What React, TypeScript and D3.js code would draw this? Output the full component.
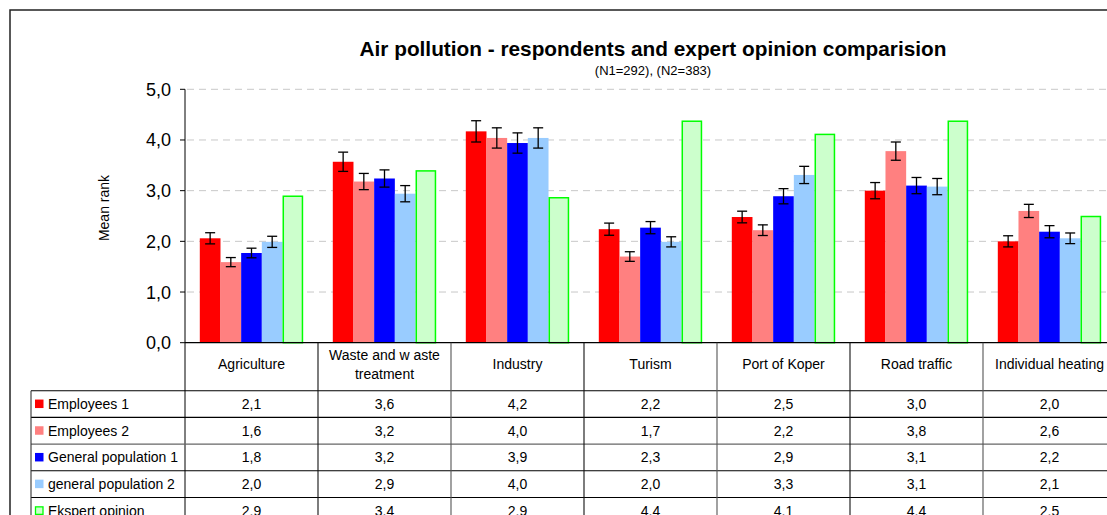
import React from 'react';
import * as d3 from 'd3';

const categories = ["Agriculture", "Waste and w aste|treatment", "Industry", "Turism", "Port of Koper", "Road traffic", "Individual heating"];
const seriesNames = ["Employees 1", "Employees 2", "General population 1", "general population 2", "Ekspert opinion"];
const employees1 = [2.06, 3.57, 4.17, 2.24, 2.48, 3.0, 2.0];
const employees2 = [1.59, 3.18, 4.04, 1.7, 2.22, 3.78, 2.6];
const general1 = [1.77, 3.24, 3.94, 2.27, 2.89, 3.1, 2.19];
const general2 = [1.99, 2.94, 4.04, 1.99, 3.31, 3.08, 2.06];
const expert = [2.89, 3.39, 2.86, 4.37, 4.11, 4.37, 2.49];
const errEmployees1 = [0.11, 0.19, 0.21, 0.12, 0.115, 0.16, 0.11];
const errEmployees2 = [0.09, 0.16, 0.2, 0.095, 0.105, 0.18, 0.13];
const errGeneral1 = [0.095, 0.17, 0.2, 0.12, 0.15, 0.16, 0.12];
const errGeneral2 = [0.11, 0.16, 0.2, 0.1, 0.17, 0.16, 0.105];
const yTicks = [0, 1, 2, 3, 4, 5];

const seriesValues = [employees1, employees2, general1, general2, expert];
const seriesErrors = [errEmployees1, errEmployees2, errGeneral1, errGeneral2, null];
const seriesFill = ["#FF0000", "#FF8080", "#0000FF", "#99CCFF", "#CCFFCC"];
const seriesStroke = [null, null, null, null, "#00FF00"];

const FONT = "'Liberation Sans', Arial, sans-serif";

export default function App() {
  const W = 1107, H = 515;
  const left = 185, catW = 133;
  const y = d3.scaleLinear().domain([0, 5]).range([342.7, 89.3]);
  const x = d3.scaleBand<string>().domain(categories).range([left, left + catW * categories.length]).padding(0);
  const xs = d3.scaleBand<number>().domain(d3.range(seriesNames.length)).range([14.8, catW - 14.8]).padding(0);
  const fmt = (v: number) => d3.format(".1f")(v).replace(".", ",");
  const rowTop = 390.7;
  const rowH = 26.7;
  const bottom = y(0);

  return (
    <svg width={W} height={H} style={{ position: 'absolute', left: 0, top: 0, background: '#fff' }} fontFamily={FONT}>
      <rect x={0} y={0} width={W} height={H} fill="#fff" />
      <rect x={10} y={10} width={1300} height={700} fill="none" stroke="#222" strokeWidth={1.5} />
      <text x={653} y={55.5} textAnchor="middle" fontSize={20.8} fontWeight="bold" fill="#000">Air pollution - respondents and expert opinion comparision</text>
      <text x={653} y={75} textAnchor="middle" fontSize={13} fill="#000">(N1=292), (N2=383)</text>

      {/* gridlines */}
      {yTicks.filter(t => t > 0).map(t => (
        <line key={'g' + t} x1={left + 2} x2={W} y1={y(t)} y2={y(t)} stroke="#C8C8C8" strokeDasharray="7,5" strokeWidth={1} />
      ))}

      {/* y axis */}
      <line x1={left} x2={left} y1={y(5)} y2={H} stroke="#000" strokeWidth={1} />
      {yTicks.map(t => (
        <g key={'t' + t}>
          <line x1={left - 5} x2={left} y1={y(t)} y2={y(t)} stroke="#000" />
          <text x={171} y={y(t) + 6.5} textAnchor="end" fontSize={18} fill="#000">{fmt(t)}</text>
        </g>
      ))}
      <text transform={`translate(${109},${208}) rotate(-90)`} textAnchor="middle" fontSize={14} fill="#000">Mean rank</text>

      {/* bars */}
      {categories.map((c, ci) => (
        <g key={'c' + ci} transform={`translate(${x(c)},0)`}>
          {seriesValues.map((vals, si) => {
            const v = vals[ci];
            const bx = xs(si)!;
            const bw = xs.bandwidth();
            const stroke = seriesStroke[si];
            return (
              <rect key={'b' + si}
                x={stroke ? bx + 0.75 : bx} y={y(v)}
                width={stroke ? bw - 1.5 : bw} height={bottom - y(v)}
                fill={seriesFill[si]} stroke={stroke || 'none'} strokeWidth={stroke ? 1.5 : 0} />
            );
          })}
          {seriesValues.map((vals, si) => {
            const e = seriesErrors[si];
            if (!e) return null;
            const cx = xs(si)! + xs.bandwidth() / 2;
            const v = vals[ci];
            const y1 = y(v + e[ci]), y2 = y(v - e[ci]);
            return (
              <g key={'e' + si} stroke="#000" strokeWidth={1.3}>
                <line x1={cx} x2={cx} y1={y1} y2={y2} />
                <line x1={cx - 5} x2={cx + 5} y1={y1} y2={y1} />
                <line x1={cx - 5} x2={cx + 5} y1={y2} y2={y2} />
              </g>
            );
          })}
        </g>
      ))}

      {/* x axis line / table top */}
      <line x1={left} x2={W} y1={bottom} y2={bottom} stroke="#000" strokeWidth={1.2} />

      {/* table */}
      {seriesNames.map((s, si) => (
        <line key={'h' + si} x1={31} x2={W} y1={rowTop + si * rowH} y2={rowTop + si * rowH} stroke={si === 2 ? '#666' : '#000'} strokeWidth={1.1} />
      ))}
      <line x1={31} x2={31} y1={rowTop} y2={H} stroke="#333" strokeWidth={1.1} />
      {categories.map((c, ci) => (
        <line key={'v' + ci} x1={x(c)! + catW} x2={x(c)! + catW} y1={bottom} y2={H} stroke={ci % 2 === 0 ? '#111' : '#555'} strokeWidth={1.1} />
      ))}
      {categories.map((c, ci) => {
        const lines = c.split('|');
        const cx = x(c)! + catW / 2;
        const startY = lines.length === 1 ? 369 : 360;
        return (
          <text key={'cl' + ci} x={cx} y={startY} textAnchor="middle" fontSize={14} fill="#000">
            {lines.map((l, li) => (
              <tspan key={li} x={cx} dy={li === 0 ? 0 : 19}>{l}</tspan>
            ))}
          </text>
        );
      })}
      {seriesNames.map((s, si) => {
        const cy = rowTop + si * rowH + rowH / 2;
        const stroke = seriesStroke[si];
        return (
          <g key={'r' + si}>
            <rect x={stroke ? 35.5 : 35} y={cy - 4.5 + (stroke ? 0.5 : 0)} width={stroke ? 7.5 : 8.5} height={stroke ? 7.5 : 8.5}
              fill={seriesFill[si]} stroke={stroke || 'none'} strokeWidth={stroke ? 1.3 : 0} />
            <text x={48} y={cy + 5} fontSize={14} fill="#000">{s}</text>
            {categories.map((c, ci) => (
              <text key={'val' + ci} x={x(c)! + catW / 2} y={cy + 5} textAnchor="middle" fontSize={14} fill="#000">
                {fmt(seriesValues[si][ci])}
              </text>
            ))}
          </g>
        );
      })}
    </svg>
  );
}
